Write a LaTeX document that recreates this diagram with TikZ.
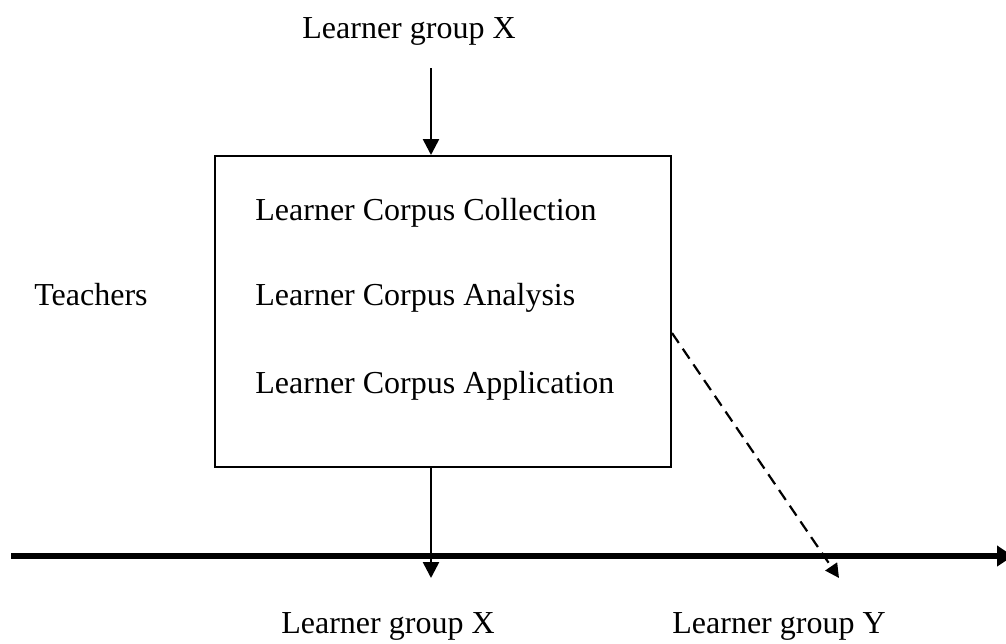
\documentclass[tikz,border=0pt]{standalone}
\usepackage{fontspec}
\setmainfont{Liberation Serif}
\usetikzlibrary{arrows.meta}
\begin{document}
\begin{tikzpicture}[x=0.5pt,y=-0.5pt,
  label/.style={inner sep=0pt, font=\fontsize{16pt}{19pt}\selectfont},
  flow/.style={line width=1.3pt, -{Triangle[width=8pt,length=8pt]}},
  spread/.style={line width=1.1pt, dash pattern=on 6pt off 3.5pt, -{Triangle[width=7pt,length=7pt]}},
  timeline/.style={line width=3pt, -{Triangle[width=10pt,length=8pt]}}]
  \useasboundingbox (0,0) rectangle (1006,643);

  % central process box
  \node[draw, line width=1pt, minimum width=228pt, minimum height=155.5pt, inner sep=0pt]
    (box) at (443,311.5) {};
  \node[label, anchor=base west] (collect) at (255,220) {Learner Corpus Collection};
  \node[label, anchor=base west] (analyse) at (255,305) {Learner Corpus Analysis};
  \node[label, anchor=base west] (apply) at (255,393) {Learner Corpus Application};
  \node[label, anchor=base east] (teachers) at (148,305) {Teachers};

  % learner groups
  \node[label, anchor=base west] (grpXin) at (302,38) {Learner group X};
  \node[label, anchor=base east] (grpXout) at (495,633) {Learner group X};
  \node[label, anchor=base west] (grpY) at (672,633) {Learner group Y};

  % time axis
  \coordinate (t0) at (11,556);
  \coordinate (t1) at (1013,556);
  \draw[timeline] (t0) -- (t1);

  % input and output arrows
  \coordinate (inTop) at (431,68);
  \coordinate (outEnd) at (431,578);
  \draw[flow] (inTop) -- (inTop |- box.north);
  \draw[flow] (outEnd |- box.south) -- (outEnd);

  % transfer to the other group
  \coordinate (yStart) at (672,333);
  \coordinate (yEnd) at (839,578);
  \draw[spread] (yStart) -- (yEnd);
\end{tikzpicture}
\end{document}
